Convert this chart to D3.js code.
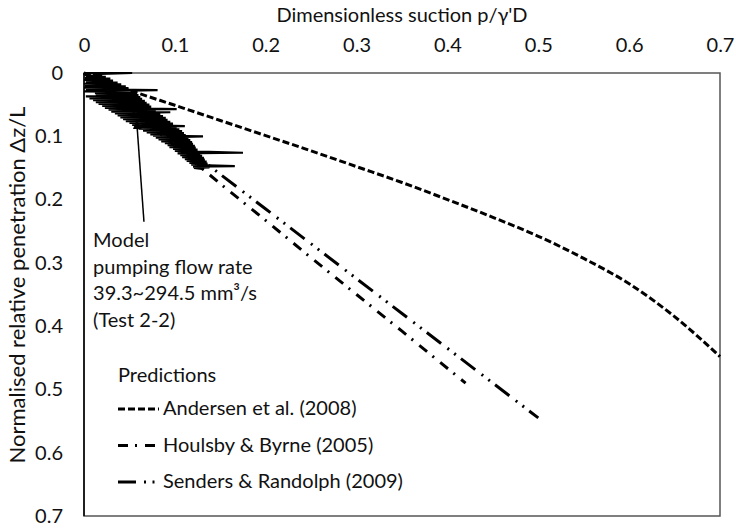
<!DOCTYPE html>
<html>
<head>
<meta charset="utf-8">
<script src="https://cdn.jsdelivr.net/npm/d3@7"></script>
<style>
  html, body { margin: 0; padding: 0; background: #fff; }
  svg { display: block; font-family: Lato, "Open Sans", sans-serif; }
</style>
</head>
<body>
<svg id="chart" width="736" height="529"></svg>
<script>
// Axis ticks
const xTicks = [0, 0.1, 0.2, 0.3, 0.4, 0.5, 0.6, 0.7];
const yTicks = [0, 0.1, 0.2, 0.3, 0.4, 0.5, 0.6, 0.7];

// Measured response, Test 2-2: dimensionless suction p/γ'D
const measuredSuction = [
  0.000, 0.053, 0.010, 0.020, 0.002, 0.024, 0.001, 0.029, 0.000, 0.032,
  0.002, 0.037, 0.000, 0.041, 0.001, 0.046, 0.000, 0.049, 0.002, 0.081,
  0.000, 0.055, 0.012, 0.058, 0.013, 0.060, 0.002, 0.062, 0.006, 0.064,
  0.010, 0.067, 0.013, 0.069, 0.016, 0.072, 0.020, 0.074, 0.023, 0.102,
  0.027, 0.079, 0.030, 0.095, 0.034, 0.084, 0.037, 0.087, 0.040, 0.090,
  0.043, 0.092, 0.046, 0.095, 0.050, 0.098, 0.053, 0.111, 0.056, 0.102,
  0.060, 0.105, 0.065, 0.108, 0.069, 0.110, 0.073, 0.112, 0.076, 0.131,
  0.079, 0.115, 0.082, 0.117, 0.085, 0.119, 0.089, 0.120, 0.092, 0.122,
  0.094, 0.123, 0.098, 0.125, 0.100, 0.175, 0.103, 0.128, 0.106, 0.130,
  0.108, 0.132, 0.111, 0.133, 0.113, 0.135, 0.116, 0.136, 0.118, 0.166,
  0.120, 0.138, 0.121, 0.132
];
// Measured response, Test 2-2: normalised relative penetration Δz/L
const measuredPenetration = [
  0.000, 0.000, 0.002, 0.003, 0.005, 0.006, 0.008, 0.009, 0.011, 0.012,
  0.014, 0.015, 0.017, 0.018, 0.020, 0.021, 0.023, 0.024, 0.026, 0.027,
  0.029, 0.030, 0.032, 0.033, 0.034, 0.035, 0.037, 0.038, 0.040, 0.041,
  0.043, 0.044, 0.046, 0.047, 0.049, 0.050, 0.052, 0.053, 0.055, 0.057,
  0.058, 0.059, 0.061, 0.062, 0.064, 0.065, 0.067, 0.068, 0.070, 0.071,
  0.073, 0.074, 0.076, 0.077, 0.079, 0.080, 0.082, 0.084, 0.085, 0.086,
  0.088, 0.089, 0.091, 0.092, 0.094, 0.095, 0.097, 0.098, 0.099, 0.100,
  0.102, 0.103, 0.105, 0.106, 0.108, 0.109, 0.111, 0.112, 0.114, 0.115,
  0.117, 0.118, 0.120, 0.121, 0.123, 0.126, 0.127, 0.128, 0.130, 0.131,
  0.133, 0.134, 0.136, 0.137, 0.139, 0.140, 0.142, 0.143, 0.145, 0.147,
  0.148, 0.149, 0.150, 0.152
];

// Predictions
const andersenSuction     = [0, 0.05, 0.1, 0.15, 0.2, 0.25, 0.3, 0.35, 0.4, 0.45, 0.5, 0.55, 0.6, 0.65, 0.7];
const andersenPenetration = [0, 0.027, 0.051, 0.075, 0.099, 0.123, 0.148, 0.173, 0.2, 0.228, 0.258, 0.293, 0.333, 0.385, 0.448];

const houlsbySuction      = [0, 0.05, 0.1, 0.15, 0.2, 0.25, 0.3, 0.35, 0.42];
const houlsbyPenetration  = [0, 0.055, 0.115, 0.175, 0.233, 0.292, 0.35, 0.408, 0.49];

const sendersSuction      = [0, 0.05, 0.1, 0.15, 0.2, 0.25, 0.3, 0.35, 0.4, 0.45, 0.5];
const sendersPenetration  = [0, 0.05, 0.105, 0.16, 0.215, 0.27, 0.325, 0.38, 0.435, 0.49, 0.545];

const legendLabels = ["Andersen et al. (2008)", "Houlsby & Byrne (2005)", "Senders & Randolph (2009)"];
const annotationLines = ["Model", "pumping flow rate", "39.3~294.5 mm³/s", "(Test 2-2)"];

// ---------------------------------------------------------------
const svg = d3.select("#chart");
const FONT = 20;
const INK = "#111";
const x = d3.scaleLinear().domain([0, 0.7]).range([84, 720]);
const y = d3.scaleLinear().domain([0, 0.7]).range([73, 516]);

const zip = (a, b) => a.map((v, i) => [v, b[i]]);
const line = d3.line().x(d => x(d[0])).y(d => y(d[1]));

// plot frame
svg.append("rect")
  .attr("x", x(0)).attr("y", y(0))
  .attr("width", x(0.7) - x(0)).attr("height", y(0.7) - y(0))
  .attr("fill", "none").attr("stroke", "#555").attr("stroke-width", 1.5);
svg.append("line")
  .attr("x1", x(0)).attr("x2", x(0)).attr("y1", y(0)).attr("y2", y(0.7))
  .attr("stroke", "#000").attr("stroke-width", 1.5);

// axes
const fmt = d => d === 0 ? "0" : d3.format(".1f")(d);
const gx = svg.append("g").attr("transform", `translate(0,${y(0)})`)
  .call(d3.axisTop(x).tickValues(xTicks).tickSize(0).tickPadding(21).tickFormat(fmt));
const gy = svg.append("g").attr("transform", `translate(${x(0)},0)`)
  .call(d3.axisLeft(y).tickValues(yTicks).tickSize(0).tickPadding(21).tickFormat(fmt));
[gx, gy].forEach(g => {
  g.select(".domain").remove();
  g.selectAll("text").attr("font-size", FONT).attr("font-family", "Lato").attr("fill", INK);
});

// axis titles
svg.append("text")
  .attr("x", (x(0) + x(0.7)) / 2).attr("y", 22)
  .attr("text-anchor", "middle").attr("font-size", FONT).attr("fill", INK)
  .text("Dimensionless suction p/γ'D");
svg.append("text")
  .attr("transform", `translate(25,285) rotate(-90)`)
  .attr("text-anchor", "middle").attr("font-size", 22).attr("fill", INK)
  .text("Normalised relative penetration Δz/L");

// predictions
const styles = [
  { data: zip(andersenSuction, andersenPenetration), dash: "7,3", curve: d3.curveMonotoneX },
  { data: zip(houlsbySuction, houlsbyPenetration), dash: "10,7,2,8", curve: d3.curveLinear },
  { data: zip(sendersSuction, sendersPenetration), dash: "18,8,2,6.5,2,6.5", curve: d3.curveLinear }
];
styles.forEach(s => {
  svg.append("path").datum(s.data)
    .attr("d", line.curve(s.curve))
    .attr("fill", "none").attr("stroke", "#000")
    .attr("stroke-width", 3).attr("stroke-dasharray", s.dash);
});
line.curve(d3.curveLinear);

// measured
svg.append("path").datum(zip(measuredSuction, measuredPenetration))
  .attr("d", line)
  .attr("fill", "none").attr("stroke", "#000")
  .attr("stroke-width", 2.2).attr("stroke-linejoin", "miter");

// annotation arrow
svg.append("defs").append("marker")
  .attr("id", "arrow").attr("viewBox", "0 0 10 10")
  .attr("refX", 9).attr("refY", 5)
  .attr("markerWidth", 6).attr("markerHeight", 6)
  .attr("orient", "auto")
  .append("path").attr("d", "M0,0 L10,5 L0,10 z").attr("fill", "#000");
svg.append("line")
  .attr("x1", x(0.066)).attr("y1", y(0.235))
  .attr("x2", x(0.058)).attr("y2", y(0.076))
  .attr("stroke", "#000").attr("stroke-width", 1.5)
  .attr("marker-end", "url(#arrow)");

const ann = svg.append("text").attr("font-size", FONT).attr("fill", INK);
annotationLines.forEach((t, i) => {
  ann.append("tspan").attr("x", x(0.01)).attr("y", 247 + i * 26.7).text(t);
});

// legend
const lg = svg.append("g");
lg.append("text").attr("x", 118).attr("y", 382).attr("font-size", FONT).attr("fill", INK).text("Predictions");
legendLabels.forEach((lab, i) => {
  const cy = 409 + i * 36.5;
  lg.append("line")
    .attr("x1", 118).attr("x2", 159).attr("y1", cy).attr("y2", cy)
    .attr("stroke", "#000").attr("stroke-width", 3)
    .attr("stroke-dasharray", styles[i].dash);
  lg.append("text").attr("x", 163).attr("y", cy + 6)
    .attr("font-size", FONT).attr("fill", INK).text(lab);
});
</script>
</body>
</html>
